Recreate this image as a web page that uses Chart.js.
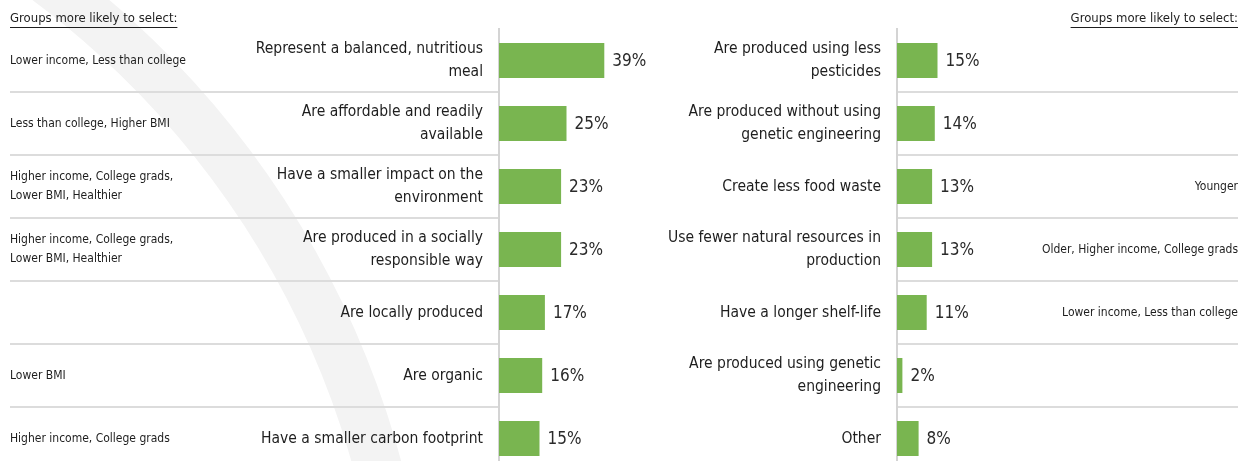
<!DOCTYPE html>
<html>
<head>
<meta charset="utf-8">
<script src="https://cdn.jsdelivr.net/npm/chart.js@4"></script>
<style>
  html, body { margin: 0; padding: 0; background: #fff; overflow: hidden; }
  #wrap { position: relative; width: 1254px; height: 461px; overflow: hidden; }
  .panel { position: absolute; top: 0; height: 470px; }
  #left { left: 0; width: 650px; }
  #right { left: 650px; width: 604px; }
</style>
</head>
<body>
<div id="wrap">
  <div class="panel" id="left"><canvas id="leftChart"></canvas></div>
  <div class="panel" id="right"><canvas id="rightChart"></canvas></div>
</div>
<script>
const leftLabels = [
    ['Represent a balanced, nutritious', 'meal'],
    ['Are affordable and readily', 'available'],
    ['Have a smaller impact on the', 'environment'],
    ['Are produced in a socially', 'responsible way'],
    'Are locally produced',
    'Are organic',
    'Have a smaller carbon footprint'
];
const leftValues = [39, 25, 23, 23, 17, 16, 15];
const leftGroups = [
    ['Lower income, Less than college'],
    ['Less than college, Higher BMI'],
    ['Higher income, College grads,', 'Lower BMI, Healthier'],
    ['Higher income, College grads,', 'Lower BMI, Healthier'],
    [],
    ['Lower BMI'],
    ['Higher income, College grads']
];

const rightLabels = [
    ['Are produced using less', 'pesticides'],
    ['Are produced without using', 'genetic engineering'],
    'Create less food waste',
    ['Use fewer natural resources in', 'production'],
    'Have a longer shelf-life',
    ['Are produced using genetic', 'engineering'],
    'Other'
];
const rightValues = [15, 14, 13, 13, 11, 2, 8];
const rightGroups = [
    [],
    [],
    ['Younger'],
    ['Older, Higher income, College grads'],
    ['Lower income, Less than college'],
    [],
    []
];

const headerText = 'Groups more likely to select:';

const FONT = "'Liberation Sans Narrow', 'DejaVu Sans Condensed', 'Arial Narrow', sans-serif";
const BAR_GREEN = '#79b550';
const TEXT = '#1e1e1e';
const PX_PER_PCT = 2.7;

function rowsPlugin(groups, side) {
    return {
        id: 'rows_' + side,
        beforeDraw(chart) {
            if (side !== 'left') return;
            // faint decorative arc behind the left panel
            const ctx = chart.ctx;
            ctx.save();
            ctx.strokeStyle = '#f3f3f3';
            ctx.lineWidth = 48;
            ctx.beginPath();
            ctx.arc(-488, 701, 897, -62 * Math.PI / 180, -4 * Math.PI / 180);
            ctx.stroke();
            ctx.restore();
        },
        beforeDatasetsDraw(chart) {
            const { ctx, chartArea } = chart;
            const y = chart.scales.y;
            const n = chart.data.labels.length;
            ctx.save();
            ctx.strokeStyle = '#dcdcdc';
            ctx.lineWidth = 2;
            for (let i = 0; i < n - 1; i++) {
                const yy = Math.round((y.getPixelForValue(i) + y.getPixelForValue(i + 1)) / 2);
                const x0 = side === 'left' ? 10 : chartArea.left + 1;
                const x1 = side === 'left' ? chartArea.left - 1 : chartArea.right;
                ctx.beginPath();
                ctx.moveTo(x0, yy);
                ctx.lineTo(x1, yy);
                ctx.stroke();
            }
            ctx.restore();
        },
        afterDraw(chart) {
            const { ctx, chartArea } = chart;
            const y = chart.scales.y;
            const meta = chart.getDatasetMeta(0);
            ctx.save();

            // header
            ctx.font = '13px ' + FONT;
            ctx.fillStyle = TEXT;
            ctx.textBaseline = 'middle';
            const hw = ctx.measureText(headerText).width;
            const hx = side === 'left' ? 10 : chartArea.right - hw;
            ctx.textAlign = 'left';
            ctx.fillText(headerText, hx, 19);
            ctx.strokeStyle = TEXT;
            ctx.lineWidth = 1;
            ctx.beginPath();
            ctx.moveTo(hx, 27.5);
            ctx.lineTo(hx + hw, 27.5);
            ctx.stroke();

            // group notes
            ctx.font = '12px ' + FONT;
            groups.forEach((lines, i) => {
                const cy = y.getPixelForValue(i);
                const lh = 19;
                lines.forEach((t, k) => {
                    const ty = cy + (k - (lines.length - 1) / 2) * lh;
                    if (side === 'left') {
                        ctx.textAlign = 'left';
                        ctx.fillText(t, 10, ty);
                    } else {
                        ctx.textAlign = 'right';
                        ctx.fillText(t, chartArea.right, ty);
                    }
                });
            });

            // value labels
            ctx.font = '17px ' + FONT;
            ctx.fillStyle = '#2a2a2a';
            ctx.textAlign = 'left';
            meta.data.forEach((bar, i) => {
                const v = chart.data.datasets[0].data[i];
                ctx.fillText(v + '%', bar.x + 8, bar.y + 1);
            });
            ctx.restore();
        }
    };
}

function makeChart(id, labels, values, groups, side, axisLeft, areaRight) {
    const el = document.getElementById(id);
    const w = el.parentElement.clientWidth;
    const areaW = areaRight - axisLeft;
    return new Chart(el, {
        type: 'bar',
        data: {
            labels: labels,
            datasets: [{
                data: values,
                backgroundColor: BAR_GREEN,
                borderWidth: 0,
                barPercentage: 0.555,
                categoryPercentage: 1
            }]
        },
        options: {
            indexAxis: 'y',
            responsive: true,
            maintainAspectRatio: false,
            animation: false,
            layout: { padding: { top: 29, right: w - areaRight, left: 0, bottom: 0 } },
            plugins: { legend: { display: false }, tooltip: { enabled: false } },
            scales: {
                x: {
                    display: false,
                    min: 0,
                    max: areaW / PX_PER_PCT
                },
                y: {
                    grid: { display: false, drawTicks: false },
                    border: { display: true, color: '#d4d4d4', width: 2 },
                    ticks: {
                        font: { family: FONT, size: 15.5, lineHeight: 1.5 },
                        color: TEXT,
                        crossAlign: 'near',
                        padding: 16,
                        autoSkip: false
                    },
                    afterFit(s) {
                        s.width = axisLeft;
                        s.paddingTop = 0;
                        s.paddingBottom = 0;
                    }
                }
            }
        },
        plugins: [rowsPlugin(groups, side)]
    });
}

makeChart('leftChart', leftLabels, leftValues, leftGroups, 'left', 499, 650);
makeChart('rightChart', rightLabels, rightValues, rightGroups, 'right', 247, 588);
</script>
</body>
</html>
